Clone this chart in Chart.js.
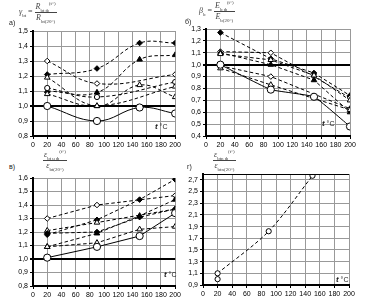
<!DOCTYPE html>
<html>
<head>
<meta charset="utf-8">
<script src="https://cdn.jsdelivr.net/npm/chart.js@4.4.1/dist/chart.umd.min.js"></script>
<style>
  body { margin: 0; background: #fff; width: 366px; height: 302px; position: relative; overflow: hidden;
         font-family: "Liberation Sans", Arial, sans-serif; color: #222; }
  canvas { position: absolute; }
  .txt { position: absolute; font-size: 7px; white-space: nowrap; line-height: 1; }
  .f { position: absolute; font-size: 8px; color: #444; white-space: nowrap; line-height: 1; font-family: "Liberation Serif", serif; }
  .frac { display: inline-block; vertical-align: middle; text-align: center; }
  .frac > span { display: block; padding: 0 1px; }
  .frac > span.num { border-bottom: 0.8px solid #444; padding-bottom: 1px; }
  .frac > span.den { padding-top: 1px; }
  sub, sup { font-size: 5px; line-height: 0; }
  .tc { position: absolute; font-size: 7px; line-height: 1; }
  .tc i { font-weight: bold; font-size: 8px; }
</style>
</head>
<body>
<canvas id="ca" width="183" height="130" style="left:0;top:24px"></canvas>
<canvas id="cb" width="183" height="132" style="left:183px;top:22px"></canvas>
<canvas id="cc" width="183" height="131" style="left:0;top:171px"></canvas>
<canvas id="cd" width="183" height="135" style="left:183px;top:167px"></canvas>

<div class="txt" style="left:9px;top:19px">а)</div>
<div class="f" style="left:19px;top:3px"><i>γ</i><sub>bt</sub> = <span class="frac"><span class="num"><i>R</i><sub>bt,ф</sub><sup>(t°)</sup></span><span class="den"><i>R</i><sub>bt(20°)</sub></span></span></div>

<div class="txt" style="left:185px;top:18px">б)</div>
<div class="f" style="left:199px;top:2px"><i>β</i><sub>b</sub> = <span class="frac"><span class="num"><i>E</i><sub>b,ф</sub><sup>(t°)</sup></span><span class="den"><i>E</i><sub>b(20°)</sub></span></span></div>

<div class="txt" style="left:9px;top:163px">в)</div>
<div class="f" style="left:43px;top:151px"><span class="frac"><span class="num"><i>ε</i><sub>bt,u,ф</sub><sup>(t°)</sup></span><span class="den"><i>ε</i><sub>bt(20°)</sub></span></span></div>

<div class="txt" style="left:187px;top:163px">г)</div>
<div class="f" style="left:213px;top:151px"><span class="frac"><span class="num"><i>ε</i><sub>btn,ф</sub><sup>(t°)</sup></span><span class="den"><i>ε</i><sub>btn(20°)</sub></span></span></div>

<div class="tc" style="left:155px;top:123px"><i>t</i> °C</div>
<div class="tc" style="left:322px;top:120px"><i>t</i> °C</div>
<div class="tc" style="left:164px;top:271px"><i>t</i> °C</div>
<div class="tc" style="left:336px;top:276px"><i>t</i> °C</div>

<script>
// temperatures where the measurements were taken
const temps = [20, 90, 150, 200];
const xTicks = [0, 20, 40, 60, 80, 100, 120, 140, 160, 180, 200];

// panel а) gamma_bt
const a1 = [1.21, 1.25, 1.42, 1.42];
const a2 = [1.10, 1.09, 1.31, 1.34];
const a3 = [1.30, 1.15, null, 1.21];
const a4 = [1.12, 1.06, null, 1.16];
const a5 = [1.19, 1.00, 1.14, 1.06];
const a6 = [1.08, 1.00, null, 1.13];
const a7 = [1.00, 0.90, 0.99, 0.95];
const yTicksA = [0.8, 0.9, 1.0, 1.1, 1.2, 1.3, 1.4, 1.5];

// panel б) beta_b
const b1 = [1.27, 1.05, 0.93, 0.74];
const b2 = [1.11, 1.10, 0.90, 0.72];
const b3 = [1.10, 1.00, 0.87, 0.60];
const b4 = [1.09, 1.04, 0.91, 0.70];
const b5 = [0.99, 0.90, null, 0.63];
const b6 = [0.97, 0.83, null, 0.62];
const b7 = [1.00, 0.79, 0.73, 0.48];
const yTicksB = [0.4, 0.5, 0.6, 0.7, 0.8, 0.9, 1.0, 1.1, 1.2, 1.3];

// panel в)
const c1 = [1.18, 1.29, 1.44, 1.59];
const c2 = [1.30, 1.40, null, 1.47];
const c3 = [1.09, 1.19, 1.32, 1.44];
const c4 = [1.21, 1.27, null, 1.37];
const c5 = [1.09, 1.12, 1.22, 1.24];
const c6 = [1.19, 1.20, 1.31, 1.37];
const c7 = [1.01, 1.09, 1.17, 1.34];
const yTicksC = [0.8, 0.9, 1.0, 1.1, 1.2, 1.3, 1.4, 1.5, 1.6];

// panel г)
const dTemps = [20, 90, 150];
const d1 = [1.10, 1.82, 2.77];
const d2 = [1.00];
const yTicksD = [0.9, 1.1, 1.3, 1.5, 1.7, 1.9, 2.1, 2.3, 2.5, 2.7];

const marks = {
  fd: { pointStyle: 'rectRot', pointBackgroundColor: '#000', pointRadius: 2.8 },
  od: { pointStyle: 'rectRot', pointBackgroundColor: '#fff', pointRadius: 2.8 },
  ft: { pointStyle: 'triangle', pointBackgroundColor: '#000', pointRadius: 3.2 },
  ot: { pointStyle: 'triangle', pointBackgroundColor: '#fff', pointRadius: 3.2 },
  oc: { pointStyle: 'circle', pointBackgroundColor: '#fff', pointRadius: 2.6 },
  big: { pointStyle: 'circle', pointBackgroundColor: '#fff', pointRadius: 3.6 }
};

function series(xs, ys, mark, solid, tension) {
  return Object.assign({
    data: xs.map((x, i) => ({ x: x, y: ys[i] })),
    borderColor: '#000',
    borderWidth: 1,
    borderDash: solid ? [] : [3.5, 2.5],
    pointBorderColor: '#000',
    pointBorderWidth: 1,
    tension: tension,
    spanGaps: true,
    fill: false
  }, marks[mark]);
}

const topLine = {
  id: 'topLine',
  afterDraw(chart) {
    const a = chart.chartArea, ctx = chart.ctx;
    ctx.save();
    ctx.strokeStyle = '#000';
    ctx.lineWidth = 1;
    ctx.beginPath();
    ctx.moveTo(a.left, a.top + 0.5);
    ctx.lineTo(a.right, a.top + 0.5);
    ctx.stroke();
    ctx.restore();
  }
};

function makeChart(id, datasets, yMin, yMax, yTicks, yw, xh, padRight, boldOne, extraTop) {
  new Chart(document.getElementById(id), {
    type: 'line',
    data: { datasets: datasets },
    plugins: extraTop ? [topLine] : [],
    options: {
      responsive: false,
      animation: false,
      devicePixelRatio: 1,
      layout: { padding: { top: 7, right: padRight, left: 0, bottom: 0 } },
      plugins: { legend: { display: false }, tooltip: { enabled: false } },
      scales: {
        x: {
          type: 'linear', min: 0, max: 200,
          afterBuildTicks: s => { s.ticks = xTicks.map(v => ({ value: v })); },
          afterFit: s => { s.height = xh; },
          ticks: { font: { size: 7, family: 'Liberation Sans' }, color: '#000', padding: 2, maxRotation: 0, autoSkip: false },
          grid: { color: '#999', lineWidth: 1, tickLength: 3, tickColor: '#000' },
          border: { color: '#000', width: 2 }
        },
        y: {
          min: yMin, max: yMax,
          afterBuildTicks: s => { s.ticks = yTicks.map(v => ({ value: v })); },
          afterFit: s => { s.width = yw; },
          ticks: {
            font: { size: 7, family: 'Liberation Sans' }, color: '#000', padding: 2,
            callback: v => v.toFixed(1).replace('.', ',')
          },
          grid: {
            color: c => (boldOne && c.tick && Math.abs(c.tick.value - 1) < 1e-6) ? '#000' : '#999',
            lineWidth: c => (boldOne && c.tick && Math.abs(c.tick.value - 1) < 1e-6) ? 2 : 1,
            tickLength: 3, tickColor: '#000'
          },
          border: { color: '#000', width: 2 }
        }
      }
    }
  });
}

makeChart('ca', [
  series(temps, a7, 'big', true, 0.4),
  series(temps, a6, 'ot', false, 0.4),
  series(temps, a5, 'ot', false, 0.4),
  series(temps, a4, 'oc', false, 0.4),
  series(temps, a3, 'od', false, 0.4),
  series(temps, a2, 'ft', false, 0.4),
  series(temps, a1, 'fd', false, 0.4)
], 0.8, 1.5, yTicksA, 33, 18, 7, true, false);

makeChart('cb', [
  series(temps, b7, 'big', true, 0.1),
  series(temps, b6, 'ot', false, 0),
  series(temps, b5, 'od', false, 0),
  series(temps, b4, 'ot', false, 0),
  series(temps, b3, 'ft', false, 0),
  series(temps, b2, 'od', false, 0),
  series(temps, b1, 'fd', false, 0)
], 0.4, 1.3, yTicksB, 23, 18, 16, true, false);

makeChart('cc', [
  series(temps, c7, 'big', true, 0),
  series(temps, c5, 'ot', false, 0),
  series(temps, c6, 'fd', false, 0),
  series(temps, c4, 'ot', false, 0),
  series(temps, c3, 'ft', false, 0),
  series(temps, c2, 'od', false, 0),
  series(temps, c1, 'fd', false, 0)
], 0.8, 1.6, yTicksC, 33, 16, 7, true, false);

makeChart('cd', [
  series(dTemps, d1, 'oc', false, 0.3),
  series([20], d2, 'oc', false, 0)
], 0.9, 2.8, yTicksD, 20, 17, 17, false, true);
</script>
</body>
</html>
